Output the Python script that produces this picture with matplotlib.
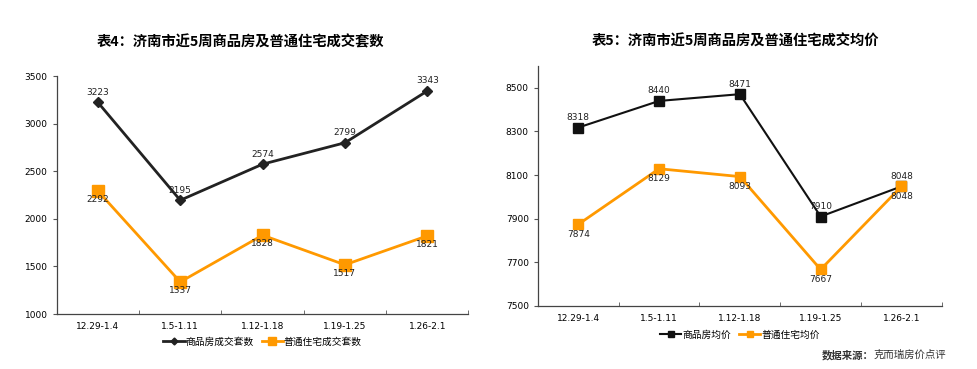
import matplotlib
matplotlib.use("Agg")
import matplotlib.pyplot as plt
from matplotlib.ticker import FixedLocator, NullFormatter

plt.rcParams["font.family"] = ["DejaVu Sans", "Noto Sans CJK SC"]

weeks = ["12.29-1.4", "1.5-1.11", "1.12-1.18", "1.19-1.25", "1.26-2.1"]

# chart 4: deals (units)
units_commercial = [3223, 2195, 2574, 2799, 3343]
units_ordinary = [2292, 1337, 1828, 1517, 1821]

# chart 5: average price
price_commercial = [8318, 8440, 8471, 7910, 8048]
price_ordinary = [7874, 8129, 8093, 7667, 8048]

title4 = "表4：济南市近5周商品房及普通住宅成交套数"
title5 = "表5：济南市近5周商品房及普通住宅成交均价"
source_head = "数据来源："
source_name = "克而瑞房价点评"

BLACK = "#222222"
ORANGE = "#FF9900"
CJK = ["Noto Sans CJK SC", "DejaVu Sans"]

fig = plt.figure(figsize=(9.78, 3.69), dpi=100)
ax1 = fig.add_axes([0.058, 0.149, 0.421, 0.645])
ax2 = fig.add_axes([0.550, 0.171, 0.413, 0.650])

x = list(range(len(weeks)))


def style(ax, ylim, yticks):
    ax.set_xlim(-0.5, len(weeks) - 0.5)
    ax.set_ylim(*ylim)
    ax.set_yticks(yticks)
    ax.set_xticks(x)
    ax.set_xticklabels(weeks, fontsize=6.5)
    ax.tick_params(axis="x", which="major", length=0, pad=6)
    ax.xaxis.set_minor_locator(FixedLocator([i + 0.5 for i in range(-1, len(weeks))]))
    ax.xaxis.set_minor_formatter(NullFormatter())
    ax.tick_params(axis="x", which="minor", direction="in", length=3, color="#555555")
    ax.tick_params(axis="y", direction="out", length=3, labelsize=6.5, color="#555555")
    for s in ("top", "right"):
        ax.spines[s].set_visible(False)
    for s in ("left", "bottom"):
        ax.spines[s].set_color("#444444")
        ax.spines[s].set_linewidth(0.9)


def annotate(ax, ys, above, offset):
    for i, v in enumerate(ys):
        dy = offset if above else -offset
        ax.annotate(str(v), (i, v), xytext=(0, dy), textcoords="offset points",
                    ha="center", va="bottom" if above else "top", fontsize=6.5, color="#222222")


def legend(ax, handles, y):
    ax.legend(handles=handles, loc="center", bbox_to_anchor=(0.5, y), ncol=2,
              frameon=False, prop={"family": CJK, "size": 7}, handlelength=2.2,
              handletextpad=0.1, columnspacing=0.8, markerscale=0.7)


# chart 4
l1, = ax1.plot(x, units_commercial, color=BLACK, lw=2, marker="D", ms=5, label="商品房成交套数")
l2, = ax1.plot(x, units_ordinary, color=ORANGE, lw=2, marker="s", ms=8, label="普通住宅成交套数")
style(ax1, (1000, 3500), [1000, 1500, 2000, 2500, 3000, 3500])
annotate(ax1, units_commercial, True, 4)
annotate(ax1, units_ordinary, False, 3)
legend(ax1, [l1, l2], -0.115)

# chart 5
l3, = ax2.plot(x, price_commercial, color="#111111", lw=1.5, marker="s", ms=7, label="商品房均价")
l4, = ax2.plot(x, price_ordinary, color=ORANGE, lw=2, marker="s", ms=7, label="普通住宅均价")
style(ax2, (7500, 8600), [7500, 7700, 7900, 8100, 8300, 8500])
annotate(ax2, price_commercial, True, 4)
annotate(ax2, price_ordinary, False, 4)
legend(ax2, [l3, l4], -0.12)

fig.text(0.246, 0.886, title4, ha="center", va="center", fontsize=10.3,
         fontweight="bold", family=CJK)
fig.text(0.752, 0.886, title5, ha="center", va="center", fontsize=10.3,
         fontweight="bold", family=CJK)
fig.text(0.893, 0.038, source_head, ha="right", va="center", fontsize=7.5,
         fontweight="bold", family=CJK, color="#333333")
fig.text(0.893, 0.038, source_name, ha="left", va="center", fontsize=7.5,
         family=CJK, color="#333333")

fig.savefig("out.png", dpi=100)
